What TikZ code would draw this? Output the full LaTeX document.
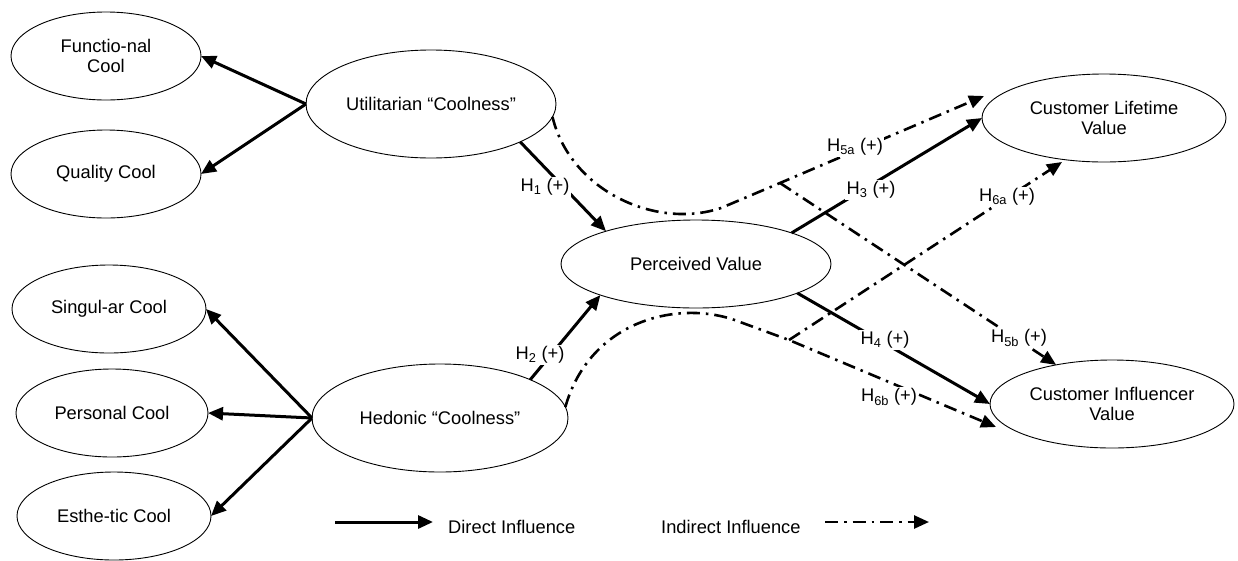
\documentclass[tikz,border=0pt]{standalone}
\usepackage{fontspec}
\setmainfont{Liberation Sans}
\usetikzlibrary{arrows.meta,calc,shapes.geometric}
\begin{document}
\begin{tikzpicture}[x=1pt,y=-1pt,
  font=\fontsize{18.3}{20.5}\selectfont,
  concept/.style={draw, line width=0.9pt, ellipse, inner sep=0pt, outer sep=0pt, align=center},
  direct/.style={line width=3pt, -{Triangle[length=15pt,width=13pt]}},
  indirect/.style={line width=2.6pt, dash pattern=on 13pt off 6pt on 2.5pt off 6pt, -{Triangle[length=15pt,width=13pt]}},
  hyp/.style={fill=white, inner sep=1.5pt},
  legend/.style={anchor=west, inner sep=0pt}
]
\fill[white] (0,0) rectangle (1238,560);
\useasboundingbox (0,0) rectangle (1238,560);

% concepts
\node[concept, minimum width=190, minimum height=88] (F) at (106,56) {Functio-nal\\Cool};
\node[concept, minimum width=190, minimum height=88] (Q) at (106,174) {Quality Cool};
\node[concept, minimum width=250, minimum height=108] (U) at (431,104) {Utilitarian “Coolness"};
\node[concept, minimum width=194, minimum height=88] (S) at (109,309) {Singul-ar Cool};
\node[concept, minimum width=192, minimum height=88] (Pe) at (112,413) {Personal Cool};
\node[concept, minimum width=194, minimum height=88] (E) at (114,516) {Esthe-tic Cool};
\node[concept, minimum width=256, minimum height=108] (H) at (440,418) {Hedonic “Coolness”};
\node[concept, minimum width=270, minimum height=88] (P) at (696,264) {Perceived Value};
\node[concept, minimum width=244, minimum height=88] (CLV) at (1104,118) {Customer Lifetime\\Value};
\node[concept, minimum width=244, minimum height=88] (CIV) at (1112,404) {Customer Influencer\\Value};

% branch points of the indirect paths
\coordinate (B5) at (780,183);
\coordinate (B6) at (789,340);

% reflective arrows
\draw[direct] (U.west) -- (F.east);
\draw[direct] (U.west) -- (Q.east);
\draw[direct] (H.west) -- (S.east);
\draw[direct] (H.west) -- (Pe.east);
\draw[direct] (H.west) -- (E.east);

% direct hypotheses
\draw[direct] (U.-23) -- (P.160);
\draw[direct] (H.23) -- (P.198);
\draw[direct] (P.18) -- (CLV.west);
\draw[direct] (P.-16.5) -- (CIV.west);

% indirect hypotheses
\draw[indirect] (U.-6) .. controls (570,190) and (655,230) .. (721,208) -- (B5) -- ([shift={(2,-22)}]CLV.west);
\draw[indirect] (B5) -- (CIV.145);
\draw[indirect] (H.5) .. controls (590,320) and (680,298) .. (740,322) -- (B6) -- ([shift={(6,23)}]CIV.west);
\draw[indirect] (B6) -- ([xshift=-42pt]CLV.south);

% hypothesis labels
\node[hyp] (h1) at (545,187) {H\textsubscript{1} (+)};
\node[hyp] (h2) at (540,355) {H\textsubscript{2} (+)};
\node[hyp] (h3) at (871,190) {H\textsubscript{3} (+)};
\node[hyp] (h4) at (885,340) {H\textsubscript{4} (+)};
\node[hyp] (h5a) at (855,147) {H\textsubscript{5a} (+)};
\node[hyp] (h5b) at (1019,338) {H\textsubscript{5b} (+)};
\node[hyp] (h6a) at (1007,197) {H\textsubscript{6a} (+)};
\node[hyp] (h6b) at (889,397) {H\textsubscript{6b} (+)};

% legend
\coordinate (ld1) at (335,522);
\coordinate (ld2) at (433,522);
\node[legend] (ldt) at (448,527) {Direct Influence};
\node[legend] (lit) at (661,527) {Indirect Influence};
\coordinate (li1) at (825,522);
\coordinate (li2) at (929,522);
\draw[direct] (ld1) -- (ld2);
\draw[indirect] (li1) -- (li2);
\end{tikzpicture}
\end{document}
